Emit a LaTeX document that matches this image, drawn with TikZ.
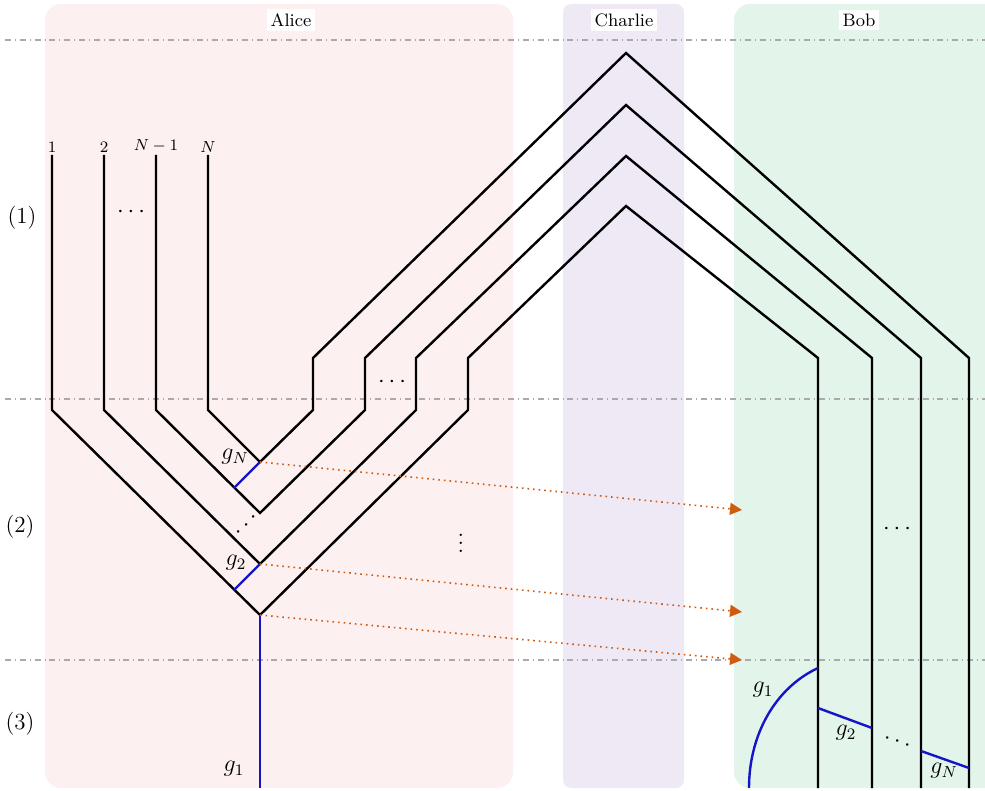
\documentclass[tikz,border=0pt]{standalone}
\usetikzlibrary{arrows.meta}
\definecolor{alicebg}{RGB}{253,240,240}
\definecolor{charliebg}{RGB}{238,233,245}
\definecolor{bobbg}{RGB}{227,244,234}
\definecolor{arrowor}{RGB}{208,92,18}
\definecolor{gbl}{RGB}{20,20,200}
\definecolor{sepgray}{RGB}{170,170,170}
\begin{document}
\begin{tikzpicture}[x=0.5pt,y=-0.5pt,
  wire/.style={line width=1.2pt, black, line join=miter},
  gwire/.style={line width=1.2pt, gbl},
  sepline/.style={sepgray, dash dot, line width=0.6pt},
  send/.style={arrowor, dotted, line width=0.8pt, -{Triangle[length=6pt,width=6pt]}},
  party/.style={fill=white, inner sep=2pt, font=\small},
  wlab/.style={font=\footnotesize, inner sep=1pt},
  glab/.style={inner sep=1pt, font=\fontsize{12}{14}\selectfont},
  rowlab/.style={font=\fontsize{11.5}{14}\selectfont},
  dotsl/.style={inner sep=0pt, font=\large},
]
\useasboundingbox (0,0) rectangle (985,791);
% backgrounds
\fill[alicebg, rounded corners=8pt] (45,4) rectangle (513,788);
\fill[charliebg, rounded corners=4pt] (563,4) rectangle (684,788);
\fill[bobbg, rounded corners=8pt] (734,4) rectangle (1010,788);
% separators
\coordinate (sA0) at (5,40);  \coordinate (sA1) at (985,40);
\coordinate (sB0) at (5,399); \coordinate (sB1) at (985,399);
\coordinate (sC0) at (5,660); \coordinate (sC1) at (985,660);
\draw[sepline] (sA0) -- (sA1);
\draw[sepline] (sB0) -- (sB1);
\draw[sepline] (sC0) -- (sC1);
% party labels
\node[party] (alice) at (291,20) {Alice};
\node[party] (charlie) at (624,20) {Charlie};
\node[party] (bob) at (859,20) {Bob};
% row labels
\node[rowlab] (row1) at (22,218) {(1)};
\node[rowlab] (row2) at (20,527) {(2)};
\node[rowlab] (row3) at (20,724) {(3)};
% coordinates
\coordinate (a1) at (52,155);  \coordinate (a2) at (104,155);
\coordinate (a3) at (156,155); \coordinate (a4) at (208,155);
\coordinate (l1) at (52,410);  \coordinate (l2) at (104,410);
\coordinate (l3) at (156,410); \coordinate (l4) at (208,410);
\coordinate (v1) at (260,615); \coordinate (v2) at (260,564);
\coordinate (v3) at (260,513); \coordinate (v4) at (260,462);
\coordinate (r1) at (468,410); \coordinate (r2) at (416,410);
\coordinate (r3) at (365,410); \coordinate (r4) at (313,410);
\coordinate (s1) at (468,358); \coordinate (s2) at (416,358);
\coordinate (s3) at (365,358); \coordinate (s4) at (313,358);
\coordinate (c1) at (626,206); \coordinate (c2) at (626,156);
\coordinate (c3) at (626,105); \coordinate (c4) at (626,53);
\coordinate (b1) at (818,358); \coordinate (b2) at (872,358);
\coordinate (b3) at (921,358); \coordinate (b4) at (969,358);
\coordinate (e1) at (818,788); \coordinate (e2) at (872,788);
\coordinate (e3) at (921,788); \coordinate (e4) at (969,788);
% wire labels
\node[wlab, above] (n1) at (a1) {$1$};
\node[wlab, above] (n2) at (a2) {$2$};
\node[wlab, above] (n3) at (a3) {$N-1$};
\node[wlab, above] (n4) at (a4) {$N$};
% wires
\draw[wire] (a1) -- (l1) -- (v1) -- (r1) -- (s1) -- (c1) -- (b1) -- (e1);
\draw[wire] (a2) -- (l2) -- (v2) -- (r2) -- (s2) -- (c2) -- (b2) -- (e2);
\draw[wire] (a3) -- (l3) -- (v3) -- (r3) -- (s3) -- (c3) -- (b3) -- (e3);
\draw[wire] (a4) -- (l4) -- (v4) -- (r4) -- (s4) -- (c4) -- (b4) -- (e4);
% Alice gates
\coordinate (gNend) at (234,488);
\coordinate (g2end) at (234,590);
\coordinate (g1end) at (260,788);
\draw[gwire] (v4) -- (gNend);
\draw[gwire] (v2) -- (g2end);
\draw[gwire] (v1) -- (g1end);
\node[glab] (lgN) at (235,457) {$g_N$};
\node[glab] (lg2) at (236,563) {$g_2$};
\node[glab] (lg1) at (234,769) {$g_1$};
% classical communication
\coordinate (t4) at (742,510);
\coordinate (t2) at (742,612);
\coordinate (t1) at (742,660);
\draw[send] (v4) -- (t4);
\draw[send] (v2) -- (t2);
\draw[send] (v1) -- (t1);
% Bob gates
\coordinate (bg1a) at (818,668); \coordinate (bg1b) at (749,788);
\coordinate (bg2a) at (818,708); \coordinate (bg2b) at (872,728);
\coordinate (bgNa) at (921,751); \coordinate (bgNb) at (969,768);
\draw[gwire] (bg1a) .. controls (775,688) and (749,735) .. (bg1b);
\draw[gwire] (bg2a) -- (bg2b);
\draw[gwire] (bgNa) -- (bgNb);
\node[glab] (blg1) at (763,690) {$g_1$};
\node[glab] (blg2) at (846,733) {$g_2$};
\node[glab] (blgN) at (944,771) {$g_N$};
% dots
\node[dotsl] (d1) at (131,212) {$\cdots$};
\node[dotsl] (d2) at (392,382) {$\cdots$};
\node[dotsl, rotate=45] (d3) at (247,525) {$\cdots$};
\node[inner sep=0pt, font=\large] (d4) at (461,537) {$\vdots$};
\node[dotsl] (d5) at (897,529) {$\cdots$};
\node[dotsl, rotate=-20] (d6) at (897,742) {$\cdots$};
\end{tikzpicture}
\end{document}
